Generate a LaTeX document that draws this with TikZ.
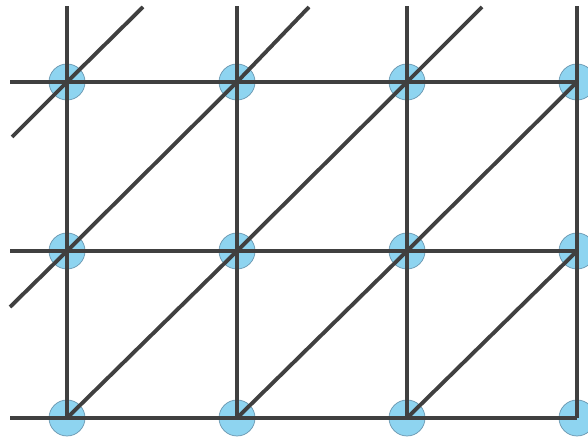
\documentclass[tikz,border=0pt]{standalone}
\usepackage{tikz}
\usetikzlibrary{calc}
\definecolor{jointcol}{RGB}{142,212,240}
\definecolor{jointrim}{RGB}{105,150,175}
\definecolor{barcol}{RGB}{64,64,64}

\begin{document}
\begin{tikzpicture}[
  joint/.style={circle, minimum size=0.72cm, inner sep=0pt,
                fill=jointcol, draw=jointrim, thin},
  bar/.style={draw=barcol, line width=2.2pt}
]
  \useasboundingbox (0,0) rectangle (11.76,8.9);
  \clip (0,0) rectangle (11.76,8.9);

  % Joints of the lattice (column i, row j)
  \foreach \c [count=\i from 0] in {1.34,4.74,8.14,11.54} {
    \foreach \r [count=\j from 0] in {0.54,3.88,7.26} {
      \node[joint] (n\i\j) at (\c,\r) {};
    }
  }

  % Free ends of the bars
  \foreach \c [count=\i from 0] in {1.34,4.74,8.14,11.54}
    \coordinate (t\i) at (\c,8.78);
  \foreach \r [count=\j from 0] in {0.54,3.88,7.26}
    \coordinate (l\j) at (0.2,\r);
  \coordinate (da) at (0.24,6.16);
  \coordinate (db) at (2.86,8.76);
  \coordinate (dc) at (0.2,2.76);
  \coordinate (dd) at (6.18,8.76);
  \coordinate (de) at (9.64,8.76);

  % Vertical bars
  \foreach \i in {0,...,3}
    \draw[bar] (n\i0.center) -- (t\i);
  % Horizontal bars
  \foreach \j in {0,1,2}
    \draw[bar] (l\j) -- (n3\j.center);

  % Diagonal bars
  \draw[bar] (da) -- (n02.center) -- (db);
  \draw[bar] (dc) -- (n01.center) -- (n12.center) -- (dd);
  \draw[bar] (n00.center) -- (n11.center) -- (n22.center) -- (de);
  \draw[bar] (n10.center) -- (n21.center) -- (n32.center);
  \draw[bar] (n20.center) -- (n31.center);
\end{tikzpicture}
\end{document}
